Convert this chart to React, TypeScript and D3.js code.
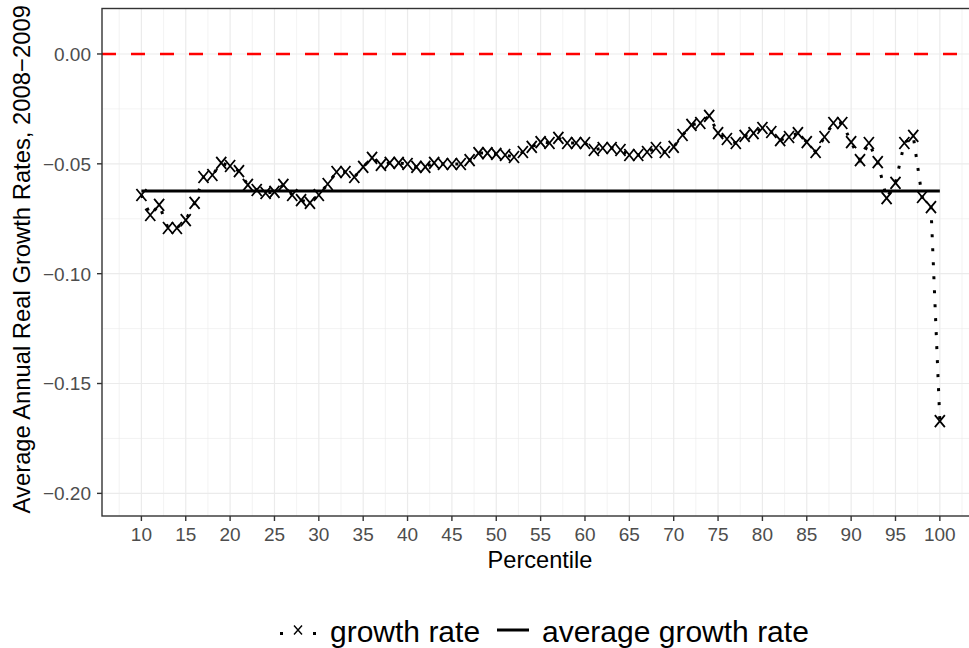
import * as React from "react";
import * as d3 from "d3";

// percentiles on the x axis and the growth rate read for each
const percentiles = [
    10, 11, 12, 13, 14, 15, 16, 17, 18, 19, 20, 21, 22, 23, 24, 25, 26, 27, 28, 29,
    30, 31, 32, 33, 34, 35, 36, 37, 38, 39, 40, 41, 42, 43, 44, 45, 46, 47, 48, 49,
    50, 51, 52, 53, 54, 55, 56, 57, 58, 59, 60, 61, 62, 63, 64, 65, 66, 67, 68, 69,
    70, 71, 72, 73, 74, 75, 76, 77, 78, 79, 80, 81, 82, 83, 84, 85, 86, 87, 88, 89,
    90, 91, 92, 93, 94, 95, 96, 97, 98, 99, 100
];
const growthRates = [
    -0.0642, -0.0733, -0.0687, -0.0792, -0.0792, -0.0756, -0.0678, -0.0560, -0.0551, -0.0496,
    -0.0510, -0.0533, -0.0596, -0.0619, -0.0633, -0.0628, -0.0596, -0.0642, -0.0665, -0.0678,
    -0.0642, -0.0592, -0.0537, -0.0537, -0.0560, -0.0514, -0.0473, -0.0505, -0.0496, -0.0496,
    -0.0501, -0.0514, -0.0514, -0.0496, -0.0501, -0.0501, -0.0501, -0.0483, -0.0451, -0.0451,
    -0.0455, -0.0460, -0.0469, -0.0446, -0.0423, -0.0401, -0.0405, -0.0382, -0.0405, -0.0405,
    -0.0405, -0.0437, -0.0428, -0.0428, -0.0437, -0.0460, -0.0460, -0.0446, -0.0428, -0.0446,
    -0.0423, -0.0369, -0.0323, -0.0314, -0.0282, -0.0360, -0.0387, -0.0405, -0.0373, -0.0360,
    -0.0337, -0.0355, -0.0392, -0.0378, -0.0360, -0.0401, -0.0446, -0.0378, -0.0314, -0.0314,
    -0.0401, -0.0483, -0.0405, -0.0492, -0.0656, -0.0587, -0.0405, -0.0373, -0.0651, -0.0697,
    -0.1671
];
const averageGrowth = -0.0624;
const xTicks = [10, 15, 20, 25, 30, 35, 40, 45, 50, 55, 60, 65, 70, 75, 80, 85, 90, 95, 100];
const xMinor = [7.5, 12.5, 17.5, 22.5, 27.5, 32.5, 37.5, 42.5, 47.5, 52.5, 57.5, 62.5, 67.5, 72.5, 77.5, 82.5, 87.5, 92.5, 97.5, 102.5];
const yTicks = [0, -0.05, -0.1, -0.15, -0.2];
const yMinor = [-0.025, -0.075, -0.125, -0.175];

const width = 969;
const height = 648;
const panel = { left: 102, right: 978, top: 8.5, bottom: 516 };
const font = "'Liberation Sans', Arial, Helvetica, sans-serif";

const fmt = (v: number) => (v < 0 ? "\u2212" : "") + Math.abs(v).toFixed(2);

export default function App() {
    const x = d3.scaleLinear().domain([5.56, 104.3]).range([panel.left, panel.right]);
    const y = d3.scaleLinear().domain([-0.2103, 0.0207]).range([panel.bottom, panel.top]);

    const points = percentiles.map<[number, number]>((p, i) => [p, growthRates[i]]);
    const line = d3.line<[number, number]>().x(d => x(d[0])).y(d => y(d[1]));

    const cross = "M-5,-6L5,6M-5,6L5,-6";

    return <svg width={width} height={height} style={{ position: "absolute", left: 0, top: 0, background: "white" }}
        fontFamily={font}>
        <defs>
            <clipPath id="panel-clip">
                <rect x={panel.left} y={panel.top} width={panel.right - panel.left} height={panel.bottom - panel.top} />
            </clipPath>
        </defs>
        <rect x={0} y={0} width={width} height={height} fill="white" />

        {/* grid */}
        <g stroke="#EBEBEB">
            {yMinor.map(v => <line key={"ym" + v} x1={panel.left} x2={panel.right} y1={y(v)} y2={y(v)} strokeWidth={0.6} />)}
            {xMinor.map(v => <line key={"xm" + v} x1={x(v)} x2={x(v)} y1={panel.top} y2={panel.bottom} strokeWidth={0.6} />)}
            {yTicks.map(v => <line key={"yM" + v} x1={panel.left} x2={panel.right} y1={y(v)} y2={y(v)} strokeWidth={1.2} />)}
            {xTicks.map(v => <line key={"xM" + v} x1={x(v)} x2={x(v)} y1={panel.top} y2={panel.bottom} strokeWidth={1.2} />)}
        </g>

        <g clipPath="url(#panel-clip)">
            <line x1={panel.left} x2={panel.right} y1={y(0)} y2={y(0)} stroke="#FF0000" strokeWidth={2.6} strokeDasharray="14 15" />
            <line x1={x(percentiles[0])} x2={x(percentiles[percentiles.length - 1])} y1={y(averageGrowth)} y2={y(averageGrowth)}
                stroke="black" strokeWidth={3} />
            <path d={line(points) || ""} fill="none" stroke="black" strokeWidth={3} strokeDasharray="3 11" />
            {points.map((d, i) => <path key={i} d={cross} transform={`translate(${x(d[0])},${y(d[1])})`}
                stroke="black" strokeWidth={1.8} fill="none" />)}
        </g>

        {/* panel border */}
        <rect x={panel.left} y={panel.top} width={panel.right - panel.left} height={panel.bottom - panel.top}
            fill="none" stroke="#333333" strokeWidth={1.4} />

        {/* axes */}
        <g>
            {xTicks.map(v => <g key={"xt" + v}>
                <line x1={x(v)} x2={x(v)} y1={panel.bottom} y2={panel.bottom + 5} stroke="#333333" strokeWidth={1.4} />
                <text x={x(v)} y={541} textAnchor="middle" fontSize={19} fill="#4D4D4D">{v}</text>
            </g>)}
            {yTicks.map(v => <g key={"yt" + v}>
                <line x1={panel.left - 5} x2={panel.left} y1={y(v)} y2={y(v)} stroke="#333333" strokeWidth={1.4} />
                <text x={91} y={y(v)} dy="0.36em" textAnchor="end" fontSize={19} fill="#4D4D4D">{fmt(v)}</text>
            </g>)}
        </g>
        <text x={540} y={568} textAnchor="middle" fontSize={23.6} fill="black">Percentile</text>
        <text transform={`translate(30,${(panel.top + panel.bottom) / 2 - 3}) rotate(-90)`} textAnchor="middle" fontSize={23.8} fill="black">
            Average Annual Real Growth Rates, 2008−2009
        </text>

        {/* legend */}
        <g>
            <rect x={280} y={632} width={3} height={3} fill="black" />
            <rect x={313} y={632} width={3} height={3} fill="black" />
            <path d="M-4,-4.5L4,4.5M-4,4.5L4,-4.5" transform="translate(298,630)" stroke="black" strokeWidth={1.4} fill="none" />
            <text x={330} y={642} fontSize={30} fill="black">growth rate</text>
            <line x1={497} x2={529} y1={630} y2={630} stroke="black" strokeWidth={3} />
            <text x={542} y={642} fontSize={30} fill="black">average growth rate</text>
        </g>
    </svg>;
}
